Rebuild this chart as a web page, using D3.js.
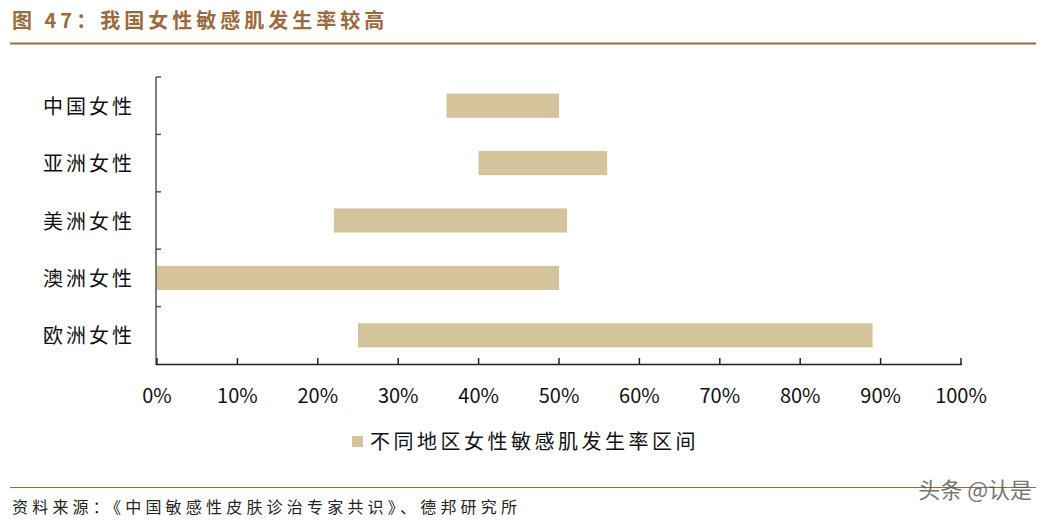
<!DOCTYPE html>
<html><head><meta charset="utf-8">
<script src="https://cdn.jsdelivr.net/npm/d3@7/dist/d3.min.js"></script>
<style>body{margin:0;background:#fff}text{font-family:"Noto Sans CJK SC",sans-serif}</style>
</head><body><script>
var categories = ['中国女性', '亚洲女性', '美洲女性', '澳洲女性', '欧洲女性'];
var lowValues = [36, 40, 22, 0, 25];
var highValues = [50, 56, 51, 50, 89];
var xTicks = [0, 10, 20, 30, 40, 50, 60, 70, 80, 90, 100];

var svg = d3.select('body').append('svg').attr('width', 1048).attr('height', 520);
var brown = '#9b6a3d';

svg.append('text').attr('x', 12).attr('y', 28).attr('fill', brown)
    .attr('font-size', 20).attr('font-weight', 'bold').attr('letter-spacing', 4)
    .text('图 47：我国女性敏感肌发生率较高');
svg.append('line').attr('x1', 10).attr('x2', 1036).attr('y1', 43.5).attr('y2', 43.5)
    .attr('stroke', brown).attr('stroke-width', 2);

var x = d3.scaleLinear().domain([0, 100]).range([157, 961]);
var y = d3.scaleBand().domain(categories).range([77, 364]).paddingInner(0.58).paddingOuter(0.29);
var yb = d3.scaleBand().domain(categories).range([77, 364]);

// bars
svg.selectAll('.bar').data(categories).enter().append('rect')
    .attr('x', (d, i) => x(lowValues[i]))
    .attr('width', (d, i) => x(highValues[i]) - x(lowValues[i]))
    .attr('y', d => y(d)).attr('height', y.bandwidth())
    .attr('fill', '#d4c39b');

// y axis
var axisColor = '#555';
svg.append('line').attr('x1', 156).attr('x2', 156).attr('y1', 77).attr('y2', 365)
    .attr('stroke', axisColor).attr('stroke-width', 1.5);
svg.selectAll('.ytick').data(categories).enter().append('line')
    .attr('x1', 156).attr('x2', 161).attr('y1', d => yb(d)).attr('y2', d => yb(d))
    .attr('stroke', axisColor).attr('stroke-width', 1.5);
svg.selectAll('.ylab').data(categories).enter().append('text')
    .attr('x', 43).attr('y', d => yb(d) + yb.bandwidth() / 2 + 8)
    .attr('font-size', 20).attr('letter-spacing', 3).attr('fill', '#111').text(d => d);

// x axis
svg.append('line').attr('x1', 156).attr('x2', 962).attr('y1', 364.5).attr('y2', 364.5)
    .attr('stroke', '#222').attr('stroke-width', 1.5);
svg.selectAll('.xtick').data(xTicks).enter().append('line')
    .attr('x1', d => x(d)).attr('x2', d => x(d)).attr('y1', 364).attr('y2', 358)
    .attr('stroke', '#222').attr('stroke-width', 1.5);
svg.selectAll('.xlab').data(xTicks).enter().append('text')
    .attr('x', d => x(d)).attr('y', 403).attr('text-anchor', 'middle')
    .attr('font-family', 'Arial, "Liberation Sans"').attr('font-size', 20).attr('fill', '#111')
    .text(d => d + '%');

// legend
svg.append('rect').attr('x', 352).attr('y', 436).attr('width', 11).attr('height', 11).attr('fill', '#d4c39b');
svg.append('text').attr('x', 370).attr('y', 449).attr('font-size', 20).attr('letter-spacing', 3.5).attr('fill', '#111')
    .text('不同地区女性敏感肌发生率区间');

// footer
svg.append('line').attr('x1', 10).attr('x2', 1036).attr('y1', 487.5).attr('y2', 487.5)
    .attr('stroke', brown).attr('stroke-width', 1);
svg.append('text').attr('x', 12).attr('y', 513).attr('font-size', 16).attr('letter-spacing', 4.2).attr('fill', '#222')
    .text('资料来源：《中国敏感性皮肤诊治专家共识》、德邦研究所');
svg.append('text').attr('x', 1032).attr('y', 498).attr('text-anchor', 'end').attr('font-size', 22)
    .attr('fill', '#555').attr('opacity', 0.8).text('头条 @认是');
</script></body></html>
